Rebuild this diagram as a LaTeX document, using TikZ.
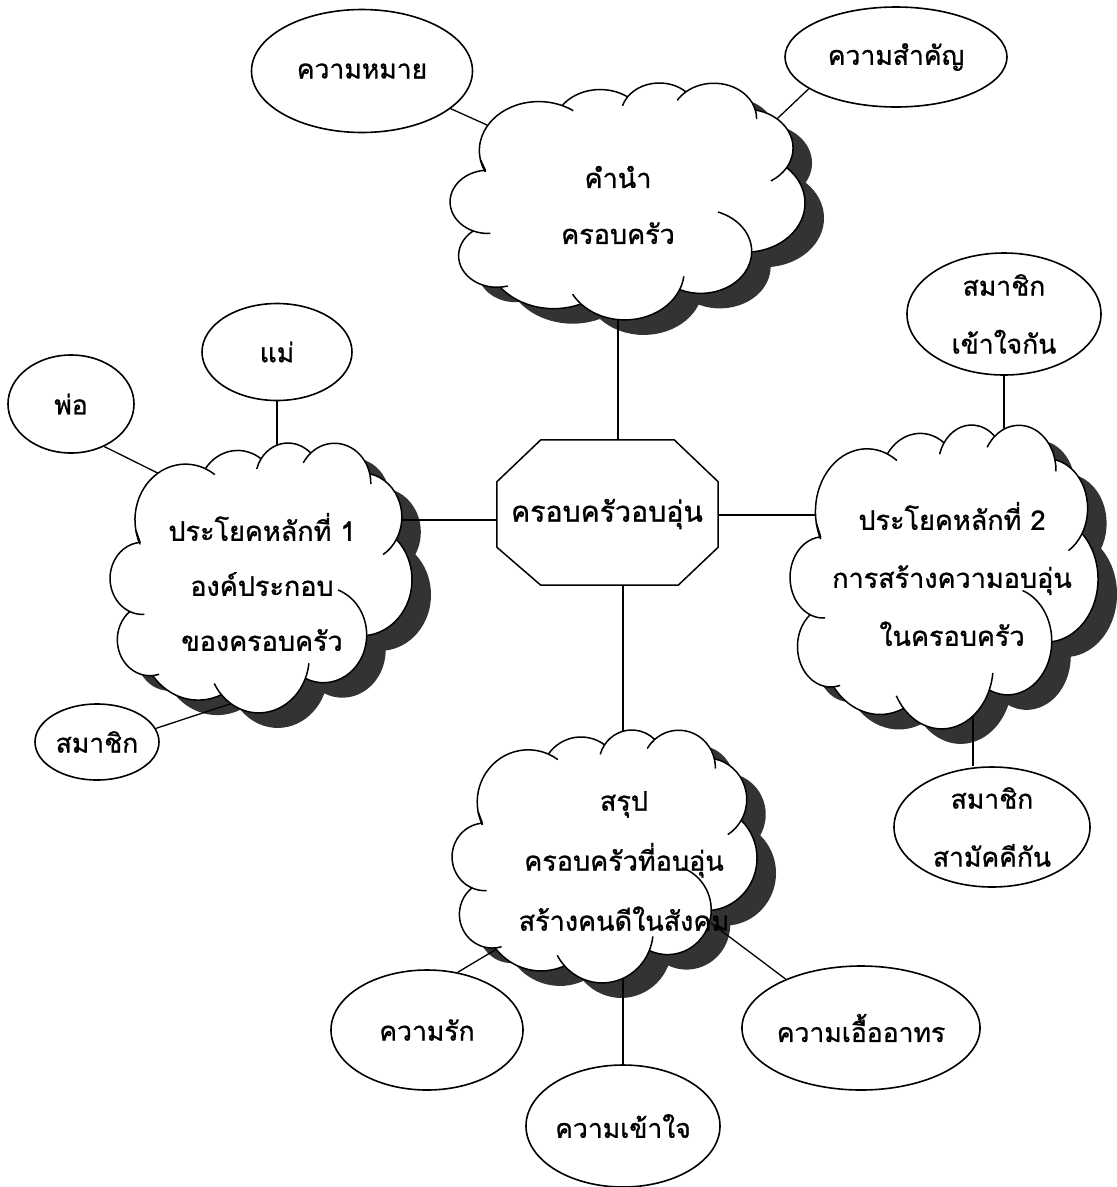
\documentclass[tikz,border=0pt]{standalone}
\usepackage{fontspec}
\newfontfamily\thaifont[Script=Thai,FakeBold=1]{Loma}
\usetikzlibrary{shapes.geometric}
\tikzset{
  thaitext/.style={font=\thaifont\fontsize{26.5}{58}\selectfont},
  oval/.style={ellipse, draw, line width=1.6pt, fill=white, inner sep=0pt, align=center, thaitext},
  cloudline/.style={line width=1.5pt, line join=round},
  cloudshade/.style={fill=black!80},
  anchorzone/.style={draw=none, inner sep=0pt, minimum size=1pt},
  ctext/.style={align=center, inner sep=0pt},
  conn/.style={line width=1.3pt},
  octline/.style={draw, line width=1.5pt, fill=white, line join=miter},
}
% cloud outline (units of a 404 x 445 box)
\newcommand\cloudpath{(39.00,143.70)
 arc[x radius=67.53, y radius=91.90, start angle=-190.4875, delta angle=123.7805] coordinate (n1)
 arc[x radius=53.33, y radius=72.67, start angle=-144.1024, delta angle=89.9452] coordinate (n2)
 arc[x radius=43.65, y radius=59.45, start angle=-145.8079, delta angle=99.7230] coordinate (n3)
 arc[x radius=48.57, y radius=65.95, start angle=-130.9861, delta angle=117.2417] coordinate (n4)
 arc[x radius=53.33, y radius=72.73, start angle=-78.7089, delta angle=109.0269] coordinate (n5)
 arc[x radius=67.75, y radius=92.20, start angle=-46.2673, delta angle=130.2690] coordinate (n6)
 arc[x radius=57.85, y radius=78.67, start angle=0.6250, delta angle=114.0333] coordinate (n7)
 arc[x radius=67.52, y radius=92.15, start angle=22.4516, delta angle=115.1726] coordinate (n8)
 arc[x radius=77.20, y radius=105.43, start angle=66.2426, delta angle=75.7110] coordinate (n9)
 arc[x radius=43.60, y radius=59.18, start angle=-274.9421, delta angle=146.7356] coordinate (n10)
 arc[x radius=43.45, y radius=59.45, start angle=-246.8285, delta angle=152.5189] -- cycle}
\newcommand\cloudinner{%
 \draw (n1) arc[x radius=67.53, y radius=91.90, start angle=-66.7070, delta angle=12.32];
 \draw (n2) arc[x radius=43.65, y radius=59.45, start angle=-145.8079, delta angle=-17.84];
 \draw (n3) arc[x radius=48.57, y radius=65.95, start angle=-130.9861, delta angle=-18.20];
 \draw (n4) arc[x radius=48.57, y radius=65.95, start angle=-13.7444, delta angle=14.86];
 \draw (n5) arc[x radius=53.33, y radius=72.73, start angle=30.3180, delta angle=27.75];
 \draw (n6) arc[x radius=57.85, y radius=78.67, start angle=0.6250, delta angle=-70.92];
 \draw (n7) arc[x radius=67.52, y radius=92.15, start angle=22.4516, delta angle=-16.00];
 \draw (n8) arc[x radius=67.52, y radius=92.15, start angle=137.6242, delta angle=14.08];
 \draw (n9) arc[x radius=43.60, y radius=59.18, start angle=85.0579, delta angle=-11.45];
 \draw (n10) arc[x radius=43.45, y radius=59.45, start angle=113.1715, delta angle=-26.43];
 \draw (39.00,143.70) arc[x radius=67.53, y radius=91.90, start angle=169.5125, delta angle=-15.49];
}
\newcommand\shadowcloud[4]{%
 \begin{scope}[shift={(#1+19,#2+15)}, xscale=#3/403.93, yscale=#4/444.79, shift={(-206.45,-222.64)}]
  \fill[cloudshade] \cloudpath;
 \end{scope}}
\newcommand\whitecloud[4]{%
 \begin{scope}[shift={(#1,#2)}, xscale=#3/403.93, yscale=#4/444.79, shift={(-206.45,-222.64)}]
  \filldraw[fill=white, cloudline] \cloudpath;
  \begin{scope}[cloudline]\cloudinner\end{scope}
 \end{scope}}
\begin{document}
\begin{tikzpicture}[x=1pt,y=-1pt]
\fill[white] (0,0) rectangle (1117,1187);
\useasboundingbox (0,0) rectangle (1117,1187);

% cloud centres
\node[anchorzone] (c1) at (627.5,201.5) {};
\node[anchorzone] (c2) at (261,578) {};
\node[anchorzone] (c3) at (944,577) {};
\node[anchorzone] (c4) at (604.5,856.5) {};

% shadows
\shadowcloud{627.5}{201.5}{355}{237}
\shadowcloud{261}{578}{302}{270}
\shadowcloud{944}{577}{308}{304}
\shadowcloud{604.5}{856.5}{305}{253}

% central octagon
\node[rectangle, draw=none, minimum width=221pt, minimum height=145pt, inner sep=0pt] (oct) at (607.5,512.5) {};
\draw[octline] ([xshift=44pt]oct.north west) -- ([xshift=-44pt]oct.north east)
   -- ([yshift=-42pt]oct.north east) -- ([yshift=38pt]oct.south east)
   -- ([xshift=-40pt]oct.south east) -- ([xshift=44pt]oct.south west)
   -- ([yshift=38pt]oct.south west) -- ([yshift=-42pt]oct.north west) -- cycle;
\node[ctext, font=\thaifont\fontsize{28.5}{36}\selectfont] (toct) at (607,514) {ครอบครัวอบอุ่น};

% ellipses
\node[oval, minimum width=221pt, minimum height=123pt] (mean) at (362,71) {ความหมาย};
\node[oval, minimum width=222pt, minimum height=100pt] (imp) at (896,57) {ความสำคัญ};
\node[oval, minimum width=150pt, minimum height=97pt] (mae) at (277,352) {แม่};
\node[oval, minimum width=126pt, minimum height=98pt] (por) at (71,404) {พ่อ};
\node[oval, minimum width=124pt, minimum height=76pt] (mem1) at (97,742) {สมาชิก};
\node[oval, minimum width=194pt, minimum height=122pt] (mem2) at (1004,314) {สมาชิก\\เข้าใจกัน};
\node[oval, minimum width=196pt, minimum height=120pt] (mem3) at (992,827) {สมาชิก\\สามัคคีกัน};
\node[oval, minimum width=192pt, minimum height=120pt] (love) at (427,1030) {ความรัก};
\node[oval, minimum width=194pt, minimum height=122pt] (und) at (623,1126) {ความเข้าใจ};
\node[oval, minimum width=228pt, minimum height=124pt] (care) at (861,1028) {ความเอื้ออาทร};

% connector ends inside the clouds
\coordinate (kmean) at (538,148);
\coordinate (kimp) at (721,172);
\coordinate (kpor) at (200,494);
\coordinate (kmem1) at (245,699);
\coordinate (klove) at (545,920);
\coordinate (kcare) at (711,923);

% connectors
\draw[conn] (mean.-23) -- (kmean);
\draw[conn] (imp.200) -- (kimp);
\draw[conn] (por.308) -- (kpor);
\draw[conn] (mem1.13) -- (kmem1);
\draw[conn] (love.62) -- (klove);
\draw[conn] (care.147) -- (kcare);
\draw[conn] (mae.south) -- (mae.south |- c2);
\draw[conn] (mem2.south) -- (mem2.south |- c3);
\draw[conn] ([xshift=-19pt]mem3.north) -- ([xshift=-19pt]mem3.north |- c3);
\draw[conn] (und.north) -- (und.north |- c4);
\draw[conn] ([xshift=10.5pt]oct.north) -- ([xshift=10.5pt]oct.north |- c1);
\draw[conn] ([xshift=15.5pt]oct.south) -- ([xshift=15.5pt]oct.south |- c4);
\draw[conn] ([yshift=-7.5pt]oct.west) -- ([yshift=-7.5pt]oct.west -| c2);
\draw[conn] ([yshift=-2.5pt]oct.east) -- ([yshift=-2.5pt]oct.east -| c3);

% white clouds
\whitecloud{627.5}{201.5}{355}{237}
\whitecloud{261}{578}{302}{270}
\whitecloud{944}{577}{308}{304}
\whitecloud{604.5}{856.5}{305}{253}

% cloud texts
\node[ctext, font=\thaifont\fontsize{27}{56}\selectfont] (t1) at (618,205) {คำนำ\\ครอบครัว};
\node[ctext, font=\thaifont\fontsize{27}{55}\selectfont] (t2) at (262,582) {ประโยคหลักที่ 1\\องค์ประกอบ\\ของครอบครัว};
\node[ctext, font=\thaifont\fontsize{27}{58}\selectfont] (t3) at (952,574) {ประโยคหลักที่ 2\\การสร้างความอบอุ่น\\ในครอบครัว};
\node[ctext, font=\thaifont\fontsize{27}{60}\selectfont] (t4) at (624,861) {สรุป\\ครอบครัวที่อบอุ่น\\สร้างคนดีในสังคม};
\end{tikzpicture}
\end{document}
